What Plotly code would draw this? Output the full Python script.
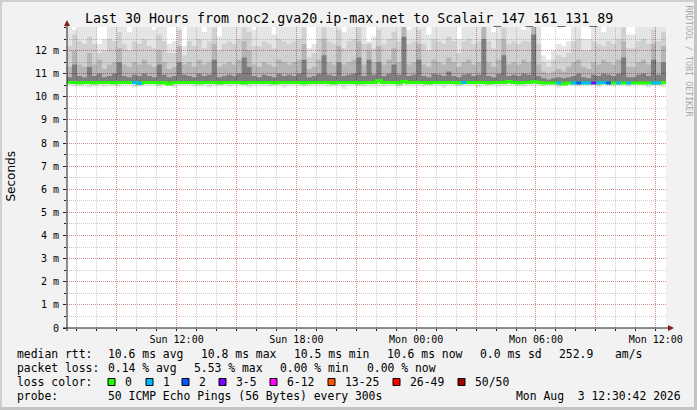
import plotly.graph_objects as go
from datetime import datetime, timedelta

# ---------------- data (milliseconds) ----------------
START = datetime(2026, 8, 2, 6, 30, 42)
END = datetime(2026, 8, 3, 12, 30, 42)
STEP_MIN = 15

median_ms = [
    10.62, 10.62, 10.60, 10.62, 10.62, 10.60, 10.62, 10.62, 10.62, 10.60,
    10.62, 10.62, 10.62, 10.62, 10.58, 10.62, 10.62, 10.62, 10.60, 10.62,
    10.55, 10.62, 10.62, 10.62, 10.62, 10.62, 10.60, 10.62, 10.62, 10.62,
    10.60, 10.62, 10.62, 10.62, 10.62, 10.60, 10.62, 10.62, 10.62, 10.62,
    10.62, 10.60, 10.62, 10.62, 10.62, 10.62, 10.62, 10.60, 10.62, 10.62,
    10.62, 10.62, 10.62, 10.60, 10.62, 10.62, 10.62, 10.62, 10.60, 10.62,
    10.62, 10.62, 10.70, 10.62, 10.62, 10.62, 10.60, 10.66, 10.62, 10.62,
    10.62, 10.62, 10.60, 10.62, 10.62, 10.62, 10.62, 10.62, 10.60, 10.62,
    10.62, 10.62, 10.62, 10.62, 10.60, 10.62, 10.62, 10.62, 10.66, 10.62,
    10.60, 10.62, 10.62, 10.65, 10.62, 10.60, 10.60, 10.60, 10.60, 10.55,
    10.60, 10.60, 10.60, 10.60, 10.60, 10.60, 10.60, 10.62, 10.60, 10.60,
    10.60, 10.60, 10.60, 10.60, 10.60, 10.60, 10.60, 10.60, 10.60, 10.62,
]

loss_pings = [
    0, 0, 0, 0, 0, 0, 0, 0, 0, 0,
    0, 0, 0, 1, 1, 0, 0, 0, 0, 0,
    0, 0, 0, 0, 0, 0, 0, 0, 0, 0,
    0, 0, 0, 0, 0, 0, 0, 0, 0, 0,
    0, 0, 0, 0, 0, 0, 0, 0, 0, 0,
    0, 0, 0, 0, 0, 0, 0, 0, 0, 0,
    0, 0, 0, 0, 0, 0, 0, 0, 0, 0,
    0, 0, 0, 0, 0, 0, 0, 0, 0, 1,
    0, 0, 0, 0, 0, 0, 0, 0, 0, 0,
    0, 0, 0, 0, 0, 0, 0, 0, 1, 0,
    0, 1, 2, 1, 1, 3, 1, 1, 2, 0,
    1, 0, 1, 0, 0, 0, 0, 1, 1, 0,
]

low_ms = [
    10.50, 10.45, 10.50, 10.50, 10.40, 10.50, 10.50, 10.45, 10.50, 10.50,
    10.45, 10.50, 10.50, 10.40, 10.45, 10.50, 10.50, 10.50, 10.40, 10.50,
    10.50, 10.45, 10.50, 10.50, 10.50, 10.45, 10.50, 10.50, 10.40, 10.50,
    10.50, 10.50, 10.45, 10.50, 10.50, 10.50, 10.40, 10.50, 10.50, 10.50,
    10.45, 10.50, 10.50, 10.40, 10.50, 10.50, 10.50, 10.45, 10.50, 10.50,
    10.50, 10.50, 10.45, 10.50, 10.50, 10.35, 10.50, 10.50, 10.50, 10.45,
    10.50, 10.50, 10.50, 10.45, 10.50, 10.50, 10.40, 10.50, 10.50, 10.50,
    10.50, 10.45, 10.50, 10.50, 10.50, 10.40, 10.50, 10.50, 10.45, 10.50,
    10.50, 10.50, 10.40, 10.50, 10.50, 10.50, 10.45, 10.50, 10.50, 10.50,
    10.50, 10.45, 10.50, 10.50, 10.50, 10.45, 10.50, 10.50, 10.40, 10.50,
    10.50, 10.50, 10.45, 10.50, 10.50, 10.50, 10.40, 10.50, 10.50, 10.45,
    10.50, 10.50, 10.45, 10.50, 10.50, 10.50, 10.40, 10.50, 10.50, 10.45,
]

q60_ms = [
    10.85, 11.40, 10.90, 10.85, 11.30, 10.90, 11.00, 10.85, 10.90, 11.00,
    11.50, 10.90, 10.85, 10.95, 10.90, 11.00, 10.90, 10.85, 11.40, 10.95,
    10.85, 10.90, 11.50, 10.95, 10.90, 10.85, 11.00, 10.90, 10.95, 11.60,
    10.85, 10.90, 10.95, 10.90, 11.00, 11.70, 11.30, 10.90, 10.85, 10.95,
    10.90, 10.85, 11.00, 10.90, 10.95, 10.90, 11.00, 11.60, 10.85, 10.90,
    11.00, 11.80, 10.95, 10.90, 11.50, 10.90, 10.95, 11.00, 11.70, 10.90,
    11.60, 10.95, 11.50, 10.90, 11.00, 11.40, 10.95, 12.60, 10.90, 10.95,
    11.60, 10.90, 10.85, 11.00, 10.95, 10.90, 11.10, 10.90, 10.85, 10.95,
    11.00, 10.90, 10.95, 12.50, 10.90, 10.85, 11.00, 11.80, 10.90, 10.95,
    10.90, 11.00, 10.95, 12.70, 10.90, 10.80, 10.75, 10.80, 10.85, 10.80,
    10.85, 10.90, 11.00, 10.85, 10.80, 10.95, 10.90, 11.00, 10.95, 10.90,
    11.00, 11.70, 10.85, 10.85, 10.95, 11.00, 10.90, 11.60, 10.95, 11.50,
]

q75_ms = [
    11.30, 12.00, 11.40, 11.30, 11.90, 11.40, 11.60, 11.20, 11.40, 11.50,
    12.10, 11.40, 11.30, 11.50, 11.40, 11.60, 11.40, 11.30, 12.00, 11.50,
    11.20, 11.30, 12.20, 11.40, 11.50, 11.30, 11.60, 11.40, 11.50, 12.30,
    11.30, 11.40, 11.50, 11.40, 11.60, 12.40, 12.00, 11.40, 11.30, 11.50,
    11.40, 11.30, 11.60, 11.50, 11.40, 11.50, 11.60, 12.30, 11.20, 11.30,
    11.60, 12.50, 11.50, 11.40, 12.20, 11.40, 11.50, 11.60, 12.40, 11.40,
    12.30, 11.50, 12.20, 11.40, 11.60, 12.10, 11.50, 13.20, 11.40, 11.50,
    12.30, 11.40, 11.30, 11.60, 11.50, 11.40, 11.70, 11.50, 11.30, 11.50,
    11.60, 11.40, 11.50, 13.20, 11.50, 11.30, 11.60, 12.50, 11.40, 11.50,
    11.40, 11.60, 11.50, 13.20, 11.40, 11.10, 11.00, 11.10, 11.20, 11.10,
    11.30, 11.50, 11.60, 11.30, 11.20, 11.50, 11.40, 11.60, 11.50, 11.40,
    11.60, 12.40, 11.30, 11.30, 11.50, 11.60, 11.40, 12.30, 11.50, 12.20,
]

q90_ms = [
    12.20, 12.70, 12.40, 12.30, 12.60, 12.30, 11.90, 12.00, 12.50, 12.40,
    12.80, 12.30, 12.00, 12.40, 12.30, 12.50, 12.20, 12.10, 12.70, 12.40,
    11.90, 11.90, 12.90, 11.80, 12.40, 12.20, 12.50, 12.10, 12.40, 13.00,
    12.00, 12.30, 12.40, 12.30, 12.50, 13.00, 12.80, 12.20, 12.20, 12.40,
    12.30, 12.10, 12.50, 12.40, 12.30, 12.40, 12.50, 13.00, 11.70, 11.90,
    12.50, 13.10, 12.40, 12.30, 12.90, 12.10, 12.40, 12.50, 13.00, 12.30,
    12.00, 12.10, 12.90, 12.30, 12.50, 12.80, 12.40, 13.20, 12.30, 12.40,
    12.90, 12.30, 12.00, 12.50, 12.40, 12.30, 12.60, 12.40, 11.90, 12.40,
    12.50, 12.30, 12.40, 13.20, 12.40, 12.10, 12.50, 13.00, 12.30, 12.40,
    12.30, 12.40, 12.40, 13.20, 12.30, 11.50, 11.30, 11.60, 11.80, 11.70,
    11.90, 12.40, 12.50, 12.00, 12.00, 12.40, 12.30, 12.20, 12.40, 12.30,
    12.50, 13.00, 12.10, 12.10, 12.40, 12.50, 12.30, 12.90, 12.40, 12.80,
]

high_ms = [
    13.20, 12.90, 13.20, 13.20, 13.20, 13.20, 12.30, 12.50, 13.20, 13.20,
    13.20, 13.20, 12.80, 13.20, 13.20, 13.20, 13.20, 12.90, 13.20, 13.20,
    12.30, 12.40, 13.20, 12.20, 13.20, 13.20, 13.20, 12.80, 13.20, 13.20,
    12.60, 13.20, 13.20, 13.20, 13.20, 13.20, 13.20, 12.90, 13.20, 13.20,
    13.20, 12.70, 13.20, 13.20, 13.20, 13.20, 13.20, 13.20, 12.10, 12.30,
    13.20, 13.20, 13.20, 13.20, 13.20, 12.80, 13.20, 13.20, 13.20, 13.20,
    12.40, 12.60, 13.20, 13.20, 13.20, 13.20, 13.20, 13.20, 12.90, 13.20,
    13.20, 13.20, 12.70, 13.20, 13.20, 13.20, 13.20, 13.20, 12.50, 13.20,
    13.20, 13.20, 13.20, 13.20, 13.20, 12.80, 13.20, 13.20, 13.20, 13.20,
    13.20, 12.90, 13.20, 13.20, 13.20, 11.80, 11.60, 12.00, 12.30, 12.20,
    12.40, 13.20, 13.20, 12.50, 12.50, 13.20, 13.20, 12.80, 13.20, 13.20,
    13.20, 13.20, 12.70, 12.70, 13.20, 13.20, 13.20, 13.20, 13.20, 13.20,
]

y_tick_vals = list(range(0, 13))
y_tick_text = ["0"] + [f"{v} m" for v in range(1, 13)]
x_tick_vals = [datetime(2026, 8, 2, 9), datetime(2026, 8, 2, 12), datetime(2026, 8, 2, 15),
               datetime(2026, 8, 2, 18), datetime(2026, 8, 2, 21), datetime(2026, 8, 3, 0),
               datetime(2026, 8, 3, 3), datetime(2026, 8, 3, 6), datetime(2026, 8, 3, 9),
               datetime(2026, 8, 3, 12)]
x_tick_text = ["", "Sun 12:00", "", "Sun 18:00", "", "Mon 00:00", "", "Mon 06:00", "", "Mon 12:00"]

loss_classes = [  # (label, min lost, max lost, color)
    ("0", 0, 0, "#26ff00"),
    ("1", 1, 1, "#00b8ff"),
    ("2", 2, 2, "#0059ff"),
    ("3-5", 3, 5, "#7e00ff"),
    ("6-12", 6, 12, "#ff00ff"),
    ("13-25", 13, 25, "#ff5500"),
    ("26-49", 26, 49, "#ff0000"),
    ("50/50", 50, 50, "#a10000"),
]

title_text = "Last 30 Hours from noc2.gva20.ip-max.net to Scalair_147_161_131_89"
legend_rows = [
    [(16, "median rtt:"), (107, "10.6 ms avg"), (200, "10.8 ms max"), (293, "10.5 ms min"),
     (386, "10.6 ms now"), (479, "0.0 ms sd"), (558, "252.9"), (614, "am/s")],
    [(16, "packet loss:"), (107, "0.14 % avg"), (193, "5.53 % max"), (279, "0.00 % min"),
     (366, "0.00 % now")],
    [(16, "loss color:")],
    [(16, "probe:"), (107, "50 ICMP Echo Pings (56 Bytes) every 300s")],
]
loss_box_x = [108, 146, 182, 219, 270, 328, 393, 458]
date_text = "Mon Aug  3 12:30:42 2026"

# ---------------- geometry ----------------
W, H = 697, 410
ML, MT, PW, PH = 67, 27, 599, 301
MONO = "DejaVu Sans Mono"


def px(x):
    return (x - ML) / PW


def py(y):
    return (MT + PH - y) / PH


n = len(median_ms)
times = [START + timedelta(minutes=STEP_MIN * i) for i in range(n)]
tx = times + [END]


def ext(v):
    return list(v) + [v[-1]]


fig = go.Figure()


def band(lower, upper, color):
    fig.add_trace(go.Scatter(x=tx, y=ext(lower), mode="lines", line=dict(width=0, shape="hv"),
                             hoverinfo="skip", showlegend=False))
    fig.add_trace(go.Scatter(x=tx, y=ext(upper), mode="lines", line=dict(width=0, shape="hv"),
                             fill="tonexty", fillcolor=color, hoverinfo="skip", showlegend=False))


band(low_ms, high_ms, "rgba(0,0,0,0.10)")
band(median_ms, q90_ms, "rgba(0,0,0,0.09)")
band(median_ms, q75_ms, "rgba(0,0,0,0.13)")
band(median_ms, q60_ms, "rgba(0,0,0,0.30)")

# median line, coloured by loss
fig.add_trace(go.Scatter(x=tx, y=ext(median_ms), mode="lines",
                         line=dict(width=3, shape="hv", color=loss_classes[0][3]),
                         hoverinfo="skip", showlegend=False))
for label, lo, hi, col in loss_classes[1:]:
    xs, ys = [], []
    for i in range(n):
        if lo <= loss_pings[i] <= hi:
            xs += [tx[i], tx[i + 1], None]
            ys += [median_ms[i], median_ms[i], None]
    if xs:
        fig.add_trace(go.Scatter(x=xs, y=ys, mode="lines", line=dict(width=3, color=col),
                                 hoverinfo="skip", showlegend=False))

GRID = "rgba(143,143,143,0.45)"
MGRID = "rgba(222,80,80,0.5)"

fig.update_layout(
    width=W, height=H,
    margin=dict(l=ML, r=W - ML - PW, t=MT, b=H - MT - PH, autoexpand=False),
    paper_bgcolor="#f2f2f2", plot_bgcolor="#ffffff",
    showlegend=False,
    font=dict(family=MONO, size=10, color="#000000"),
    xaxis=dict(type="date", range=[START, END], tickmode="array", tickvals=x_tick_vals,
               ticktext=x_tick_text, showgrid=True, gridcolor=MGRID, griddash="1px,1px",
               gridwidth=1, ticks="outside", ticklen=2, tickcolor="#1f1f1f", automargin=False,
               tickfont=dict(family=MONO, size=10, color="#000"), zeroline=False, showline=False,
               minor=dict(tickmode="linear", tick0="2026-08-02 00:00", dtick=3600000,
                          showgrid=True, gridcolor=GRID, griddash="1px,1px", gridwidth=1,
                          ticks="outside", ticklen=2, tickcolor="#1f1f1f")),
    yaxis=dict(range=[0, 13.02], tickmode="array", tickvals=y_tick_vals, ticktext=y_tick_text,
               showgrid=True, gridcolor=MGRID, griddash="1px,1px", gridwidth=1,
               ticks="outside", ticklen=3, tickcolor="#1f1f1f", automargin=False,
               ticklabelstandoff=2,
               tickfont=dict(family=MONO, size=10, color="#000"), zeroline=False, showline=False,
               minor=dict(tickmode="linear", tick0=0, dtick=0.5, showgrid=True, gridcolor=GRID,
                          griddash="1px,1px", gridwidth=1, ticks="outside", ticklen=2,
                          tickcolor="#1f1f1f")),
)

shapes = []
# frame shading
shapes += [
    dict(type="rect", xref="paper", yref="paper", x0=px(0), x1=px(2), y0=py(H), y1=py(0),
         fillcolor="#cfcfcf", line=dict(width=0), layer="above"),
    dict(type="rect", xref="paper", yref="paper", x0=px(0), x1=px(W), y0=py(2), y1=py(0),
         fillcolor="#cfcfcf", line=dict(width=0), layer="above"),
    dict(type="rect", xref="paper", yref="paper", x0=px(W - 3), x1=px(W), y0=py(H), y1=py(0),
         fillcolor="#c4c4c4", line=dict(width=0), layer="above"),
    dict(type="rect", xref="paper", yref="paper", x0=px(0), x1=px(W), y0=py(H), y1=py(H - 3),
         fillcolor="#c4c4c4", line=dict(width=0), layer="above"),
]
# axes
shapes += [
    dict(type="line", xref="paper", yref="paper", x0=px(67), x1=px(67), y0=py(331), y1=py(24),
         line=dict(color="#1f1f1f", width=1), layer="above"),
    dict(type="line", xref="paper", yref="paper", x0=px(63), x1=px(670), y0=py(328), y1=py(328),
         line=dict(color="#1f1f1f", width=1), layer="above"),
    dict(type="path", xref="paper", yref="paper", layer="above",
         path=f"M {px(64)} {py(26)} L {px(70)} {py(26)} L {px(67)} {py(20)} Z",
         fillcolor="#801f1f", line=dict(width=0)),
    dict(type="path", xref="paper", yref="paper", layer="above",
         path=f"M {px(668)} {py(325)} L {px(668)} {py(331)} L {px(674)} {py(328)} Z",
         fillcolor="#801f1f", line=dict(width=0)),
]
# loss colour boxes
for bx, (label, lo, hi, col) in zip(loss_box_x, loss_classes):
    shapes.append(dict(type="rect", xref="paper", yref="paper", x0=px(bx), x1=px(bx + 7),
                       y0=py(385.5), y1=py(378.5), fillcolor=col,
                       line=dict(color="#000000", width=1), layer="above"))
fig.update_layout(shapes=shapes)

ann = []


def text(x, y, s, size=11.4, anchor="left", family=MONO, color="#000", angle=0):
    ann.append(dict(xref="paper", yref="paper", x=px(x), y=py(y), text=s.replace(" ", "\u00a0"),
                    showarrow=False, xanchor=anchor, yanchor="middle", textangle=angle,
                    font=dict(family=family, size=size, color=color), borderpad=0))


text(348.5, 19, title_text, size=13.3, anchor="center")
text(10.5, 177, "Seconds", size=12, anchor="center", family="DejaVu Sans", angle=-90)
text(688.5, 61, "RRDTOOL / TOBI OETIKER", size=8.4, anchor="center", color="#a8a8a8", angle=90)
row_y = [354, 368, 382, 396]
for yy, row in zip(row_y, legend_rows):
    for xx, s in row:
        text(xx, yy, s)
for bx, (label, lo, hi, col) in zip(loss_box_x, loss_classes):
    text(bx + 16, 382, label)
text(682, 396, date_text, anchor="right")
fig.update_layout(annotations=ann)

fig.write_html("out.html", config={"displayModeBar": False},
               post_script="document.body.style.margin='0px';")
